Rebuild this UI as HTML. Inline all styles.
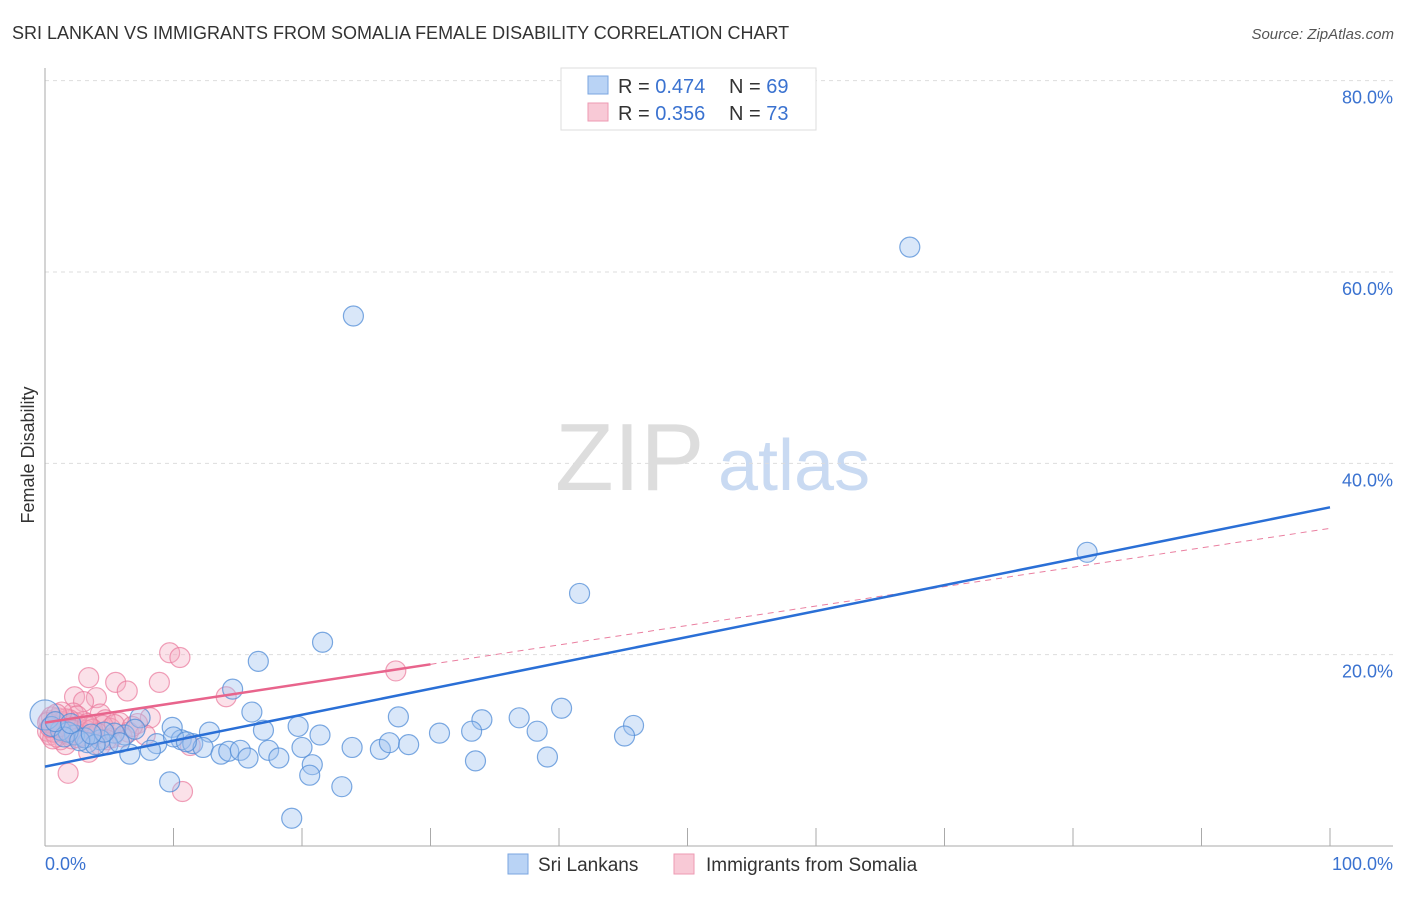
<!DOCTYPE html>
<html><head><meta charset="utf-8"><style>
body{margin:0;background:#fff;font-family:"Liberation Sans",sans-serif}
svg text{font-family:"Liberation Sans",sans-serif}
</style></head><body>
<svg id="chart" width="1406" height="892" xmlns="http://www.w3.org/2000/svg">
<text x="12" y="39" font-size="18" fill="#333">SRI LANKAN VS IMMIGRANTS FROM SOMALIA FEMALE DISABILITY CORRELATION CHART</text>
<text x="1394" y="39" font-size="15" fill="#555" text-anchor="end" font-style="italic">Source: ZipAtlas.com</text>
<text x="555" y="490" font-size="96" fill="#ddd" font-family="Liberation Serif">ZIP</text>
<text x="718" y="490" font-size="72" fill="#c9daf2">atlas</text>
<text transform="translate(34,455) rotate(-90)" font-size="18" fill="#333" text-anchor="middle">Female Disability</text>
<g id="grid"></g><g id="marks"></g>
<g>
<rect x="561" y="68" width="255" height="62" fill="#fff" stroke="#ddd"/>
<rect x="588" y="76" width="20" height="18" fill="#b9d3f5" stroke="#7aa6e0"/>
<rect x="588" y="103" width="20" height="18" fill="#f8c9d6" stroke="#ee9ab3"/>
<text x="618" y="93" font-size="20" fill="#333">R = <tspan fill="#3a72d0">0.474</tspan></text>
<text x="729" y="93" font-size="20" fill="#333">N = <tspan fill="#3a72d0">69</tspan></text>
<text x="618" y="120" font-size="20" fill="#333">R = <tspan fill="#3a72d0">0.356</tspan></text>
<text x="729" y="120" font-size="20" fill="#333">N = <tspan fill="#3a72d0">73</tspan></text>
</g>
<g>
<rect x="508" y="854" width="20" height="20" fill="#b9d3f5" stroke="#7aa6e0"/>
<text x="538" y="871" font-size="19" fill="#333">Sri Lankans</text>
<rect x="674" y="854" width="20" height="20" fill="#f8c9d6" stroke="#ee9ab3"/>
<text x="706" y="871" font-size="19" fill="#333">Immigrants from Somalia</text>
</g>
<text x="45" y="870" font-size="18" fill="#3a72d0">0.0%</text>
<text x="1393" y="870" font-size="18" fill="#3a72d0" text-anchor="end">100.0%</text>
</svg>
<script>
const yTicks=[20,40,60,80];
const blueX=[67.3,24.0,81.1,41.6,21.6,16.6,14.6,40.2,27.5,16.1,36.9,34.0,45.8,19.7,45.1,30.7,33.2,38.3,21.4,17.0,12.8,9.9,7.4,10.6,11.5,12.3,8.7,8.2,6.6,13.7,14.3,15.2,15.8,17.4,18.2,20.0,23.9,26.1,26.8,28.3,20.8,20.6,33.5,39.1,9.7,23.1,19.2,6.2,5.4,4.3,4.9,3.3,2.3,1.2,0,5.8,3.1,1.8,3.9,0.5,1.5,2.7,4.6,7.0,10.0,11.0,0.8,2.0,3.6];
const blueY=[62.6,55.4,30.7,26.4,21.3,19.3,16.4,14.4,13.5,14.0,13.4,13.2,12.6,12.5,11.5,11.8,12.0,12.0,11.6,12.1,11.9,12.4,13.4,11.1,10.7,10.3,10.7,10.0,9.6,9.6,9.9,10.0,9.2,10.0,9.2,10.3,10.3,10.1,10.8,10.6,8.5,7.4,8.9,9.3,6.7,6.2,2.9,11.6,11.8,11.1,10.6,10.8,11.6,12.1,13.7,10.8,11.3,11.9,10.6,12.5,11.4,11.0,11.9,12.2,11.4,10.9,13.0,12.8,11.7];
const pinkX=[27.3,9.7,10.5,8.9,3.4,5.5,6.4,14.1,2.3,4.0,3.0,2.2,4.3,8.2,5.8,4.7,1.0,3.5,1.6,3.4,1.8,10.7,11.3,4.3,0.8,1.3,0.4,2.6,5.2,6.5,3.9,1.9,1.2,3.0,5.1,0.2,0.6,1.1,1.5,2.0,2.4,2.8,0.3,0.9,1.7,2.1,3.2,0.5,1.4,2.5,4.5,6.0,7.2,0.7,1.0,1.9,2.9,3.7,0.2,0.6,1.2,1.6,2.2,4.1,5.4,7.8,1.3,2.6,0.4,0.9,3.3,4.8,6.8];
const pinkY=[18.3,20.2,19.7,17.1,17.6,17.1,16.2,15.6,15.6,15.5,15.1,13.9,13.8,13.4,12.9,13.2,13.4,12.4,10.6,9.8,7.6,5.7,10.5,10.5,12.3,13.0,11.6,12.3,11.3,11.9,11.6,11.6,11.1,13.0,12.3,12.0,12.7,12.2,11.8,12.5,12.9,11.9,13.1,11.4,12.6,11.2,12.1,13.5,12.0,13.6,12.6,11.4,12.8,11.9,12.4,13.2,11.5,12.2,12.9,11.2,12.5,13.3,12.1,11.8,12.7,11.6,14.0,11.3,12.4,13.8,12.8,11.1,12.5];
const blueTrend=[8.3,35.4];
const pinkTrend=[12.9,33.2];
const xs=v=>45+v*12.85, ys=v=>846-v*9.567;
const NS="http://www.w3.org/2000/svg";
const grid=document.getElementById('grid'), marks=document.getElementById('marks');
function mk(tag,attrs,parent){const e=document.createElementNS(NS,tag);for(const k in attrs)e.setAttribute(k,attrs[k]);parent.appendChild(e);return e;}
yTicks.forEach(t=>{
 const l=mk('line',{x1:45,x2:1393,y1:ys(t),y2:ys(t),stroke:'#ddd','stroke-dasharray':'4,4'},grid);
 
 
 const tx=mk('text',{x:1393,y:ys(t)+23,'font-size':18,fill:'#3a72d0','text-anchor':'end'},grid);
 tx.textContent=t.toFixed(1)+'%';
 
 
});
const ax=mk('line',{x1:45,x2:45,y1:68,y2:846,stroke:'#aaa'},grid);


const bx=mk('line',{x1:45,x2:1393,y1:846,y2:846,stroke:'#aaa'},grid);


for(let i=0;i<=10;i++){const tk=mk('line',{x1:xs(i*10),x2:xs(i*10),y1:828,y2:846,stroke:'#aaa'},grid);
 
 }
pinkX.forEach((x,i)=>{const c=mk('circle',{cx:xs(x),cy:ys(pinkY[i]),r:10,fill:'rgba(244,170,192,0.35)',stroke:'rgba(234,120,155,0.7)','stroke-width':1.2},marks);
 
 });
blueX.forEach((x,i)=>{const c=mk('circle',{cx:xs(x),cy:ys(blueY[i]),r:i==54?15:10,fill:'rgba(160,195,240,0.4)',stroke:'rgba(80,140,215,0.75)','stroke-width':1.2},marks);
 
 });
const pf=x=>pinkTrend[0]+(pinkTrend[1]-pinkTrend[0])*x/100;
const pd=mk('line',{x1:xs(30),y1:ys(pf(30)),x2:xs(100),y2:ys(pf(100)),stroke:'#ea7fa0','stroke-width':1,'stroke-dasharray':'6,5'},marks);


const ps=mk('line',{x1:xs(0),y1:ys(pf(0)),x2:xs(30),y2:ys(pf(30)),stroke:'#e8648c','stroke-width':2.5},marks);


const bl=mk('line',{x1:xs(0),y1:ys(blueTrend[0]),x2:xs(100),y2:ys(blueTrend[1]),stroke:'#2a6fd6','stroke-width':2.5},marks);


</script>
</body></html>
